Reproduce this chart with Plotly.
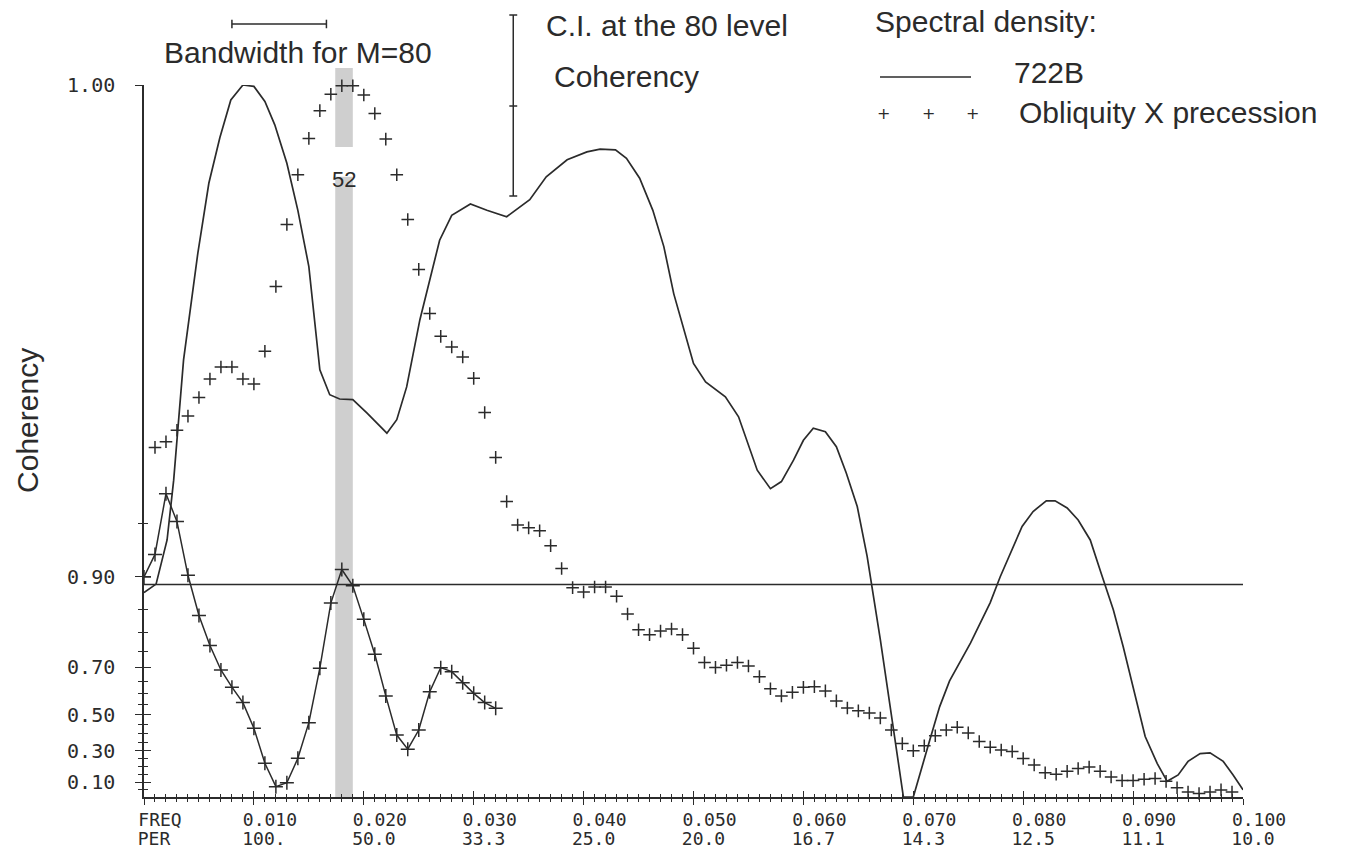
import numpy as np
import plotly.graph_objects as go

# ---------------- data ----------------
# Spectral density of site 722B (normalised, 0..1), smooth curve
freq_722b = [0.0000, 0.0011, 0.0021, 0.0027, 0.0036, 0.0049, 0.0059, 0.0069, 0.0079, 0.0090,
             0.0100, 0.0110, 0.0119, 0.0130, 0.0140, 0.0150, 0.0160, 0.0169, 0.0178, 0.0190,
             0.0203, 0.0221, 0.0230, 0.0239, 0.0251, 0.0262, 0.0269, 0.0280, 0.0297, 0.0312,
             0.0330, 0.0351, 0.0366, 0.0385, 0.0403, 0.0415, 0.0429, 0.0439, 0.0451, 0.0463,
             0.0473, 0.0482, 0.0491, 0.0500, 0.0511, 0.0529, 0.0541, 0.0558, 0.0570, 0.0580,
             0.0591, 0.0600, 0.0609, 0.0620, 0.0630, 0.0639, 0.0649, 0.0658, 0.0670, 0.0679,
             0.0686, 0.0691, 0.0700, 0.0706, 0.0715, 0.0724, 0.0733, 0.0752, 0.0770, 0.0779,
             0.0790, 0.0799, 0.0809, 0.0821, 0.0829, 0.0840, 0.0850, 0.0861, 0.0871, 0.0882,
             0.0891, 0.0902, 0.0911, 0.0922, 0.0931, 0.0941, 0.0950, 0.0961, 0.0970, 0.0982,
             0.0991, 0.1000]
dens_722b = [0.287, 0.299, 0.361, 0.445, 0.614, 0.764, 0.862, 0.926, 0.979, 1.000,
             0.998, 0.977, 0.944, 0.890, 0.824, 0.745, 0.600, 0.565, 0.559, 0.558,
             0.539, 0.511, 0.530, 0.576, 0.670, 0.740, 0.782, 0.817, 0.833, 0.824,
             0.815, 0.839, 0.871, 0.895, 0.906, 0.910, 0.909, 0.897, 0.869, 0.824,
             0.773, 0.707, 0.656, 0.609, 0.583, 0.562, 0.534, 0.459, 0.433, 0.443,
             0.473, 0.501, 0.518, 0.513, 0.492, 0.455, 0.408, 0.338, 0.221, 0.127,
             0.052, 0.000, 0.000, 0.033, 0.080, 0.127, 0.163, 0.216, 0.273, 0.309,
             0.347, 0.380, 0.401, 0.416, 0.416, 0.406, 0.389, 0.361, 0.314, 0.263,
             0.211, 0.141, 0.085, 0.047, 0.022, 0.031, 0.050, 0.061, 0.062, 0.050,
             0.031, 0.010]

# Spectral density of obliquity x precession (normalised), one value per 0.001 frequency step
freq_obl = [round(0.001 * i, 3) for i in range(1, 100)]
dens_obl = [0.491, 0.499, 0.515, 0.535, 0.561, 0.587, 0.604, 0.604, 0.587, 0.580,
            0.626, 0.717, 0.804, 0.874, 0.925, 0.964, 0.987, 0.999, 0.999, 0.986,
            0.960, 0.924, 0.874, 0.811, 0.741, 0.679, 0.647, 0.632, 0.618, 0.588,
            0.540, 0.477, 0.415, 0.382, 0.378, 0.374, 0.353, 0.321, 0.294, 0.288,
            0.295, 0.295, 0.282, 0.257, 0.235, 0.228, 0.233, 0.236, 0.228, 0.209,
            0.189, 0.182, 0.185, 0.189, 0.184, 0.169, 0.152, 0.142, 0.147, 0.154,
            0.155, 0.149, 0.135, 0.125, 0.121, 0.118, 0.111, 0.094, 0.075, 0.065,
            0.072, 0.086, 0.094, 0.098, 0.090, 0.078, 0.070, 0.066, 0.064, 0.054,
            0.045, 0.034, 0.032, 0.036, 0.040, 0.042, 0.036, 0.028, 0.023, 0.023,
            0.025, 0.026, 0.022, 0.013, 0.007, 0.005, 0.007, 0.010, 0.007]

# Coherency between the two series
freq_coh = [round(0.001 * i, 3) for i in range(0, 33)]
coherency = [0.900, 0.925, 0.966, 0.951, 0.902, 0.838, 0.767, 0.691, 0.626, 0.559,
             0.430, 0.222, 0.069, 0.095, 0.253, 0.460, 0.697, 0.861, 0.909, 0.888,
             0.830, 0.742, 0.589, 0.392, 0.309, 0.420, 0.607, 0.699, 0.685, 0.644,
             0.600, 0.559, 0.532]

ci_level = 0.89                  # non-zero coherency level (80 %)
band_freq = [0.0174, 0.0190]     # shaded band around the 52-kyr peak
band_label = "52"
bandwidth_freq = [0.0080, 0.0166]
ci_bar_freq = 0.0336

freq_ticks = [0.0, 0.01, 0.02, 0.03, 0.04, 0.05, 0.06, 0.07, 0.08, 0.09, 0.10]
freq_labels = ["FREQ", "0.010", "0.020", "0.030", "0.040", "0.050",
               "0.060", "0.070", "0.080", "0.090", "0.100"]
per_labels = ["PER", "100.", "50.0", "33.3", "25.0", "20.0",
              "16.7", "14.3", "12.5", "11.1", "10.0"]
coh_major = [0.10, 0.30, 0.50, 0.70, 0.90]
coh_major_text = ["0.10", "0.30", "0.50", "0.70", "0.90"]
coh_minor = [0.05, 0.15, 0.20, 0.25, 0.35, 0.40, 0.45, 0.55, 0.60,
             0.65, 0.75, 0.80, 0.85, 0.95]

# ---------------- styling ----------------
INK = "#2b2b2b"
MONO = "DejaVu Sans Mono, Liberation Mono, monospace"
SANS = "Liberation Sans, Arial, Helvetica, sans-serif"
Z_TOP = 4.7625          # top of the (arctanh-scaled) coherency axis

coh_z = np.arctanh(np.array(coherency))
major_z = list(np.arctanh(np.array(coh_major))) + [Z_TOP]
major_text = coh_major_text + ["1.00"]
minor_z = list(np.arctanh(np.array(coh_minor)))

fig = go.Figure()

fig.add_trace(go.Scatter(
    x=freq_722b, y=dens_722b, xaxis="x", yaxis="y3", mode="lines",
    line=dict(color=INK, width=1.7), showlegend=False, hoverinfo="skip"))

fig.add_trace(go.Scatter(
    x=freq_obl, y=dens_obl, xaxis="x", yaxis="y3", mode="markers",
    marker=dict(symbol="cross-thin", size=9, color=INK, line=dict(width=1.5, color=INK)),
    showlegend=False, hoverinfo="skip", cliponaxis=False))

fig.add_trace(go.Scatter(
    x=freq_coh, y=coh_z, xaxis="x", yaxis="y", mode="lines+markers",
    line=dict(color=INK, width=1.5),
    marker=dict(symbol="cross-thin", size=10, color=INK, line=dict(width=1.5, color=INK)),
    showlegend=False, hoverinfo="skip"))

# dummy trace so the twin (inside-tick) axes are drawn
fig.add_trace(go.Scatter(x=[None], y=[None], xaxis="x2", yaxis="y2",
                         showlegend=False, hoverinfo="skip"))

# non-zero coherency level
fig.add_shape(type="line", xref="paper", yref="y", x0=0, x1=1,
              y0=float(np.arctanh(ci_level)), y1=float(np.arctanh(ci_level)),
              line=dict(color=INK, width=1.5))

# shaded band (split around its label)
for y0, y1 in [(0.0, 0.871), (0.913, 1.024)]:
    fig.add_shape(type="rect", xref="x", yref="paper",
                  x0=band_freq[0], x1=band_freq[1], y0=y0, y1=y1,
                  fillcolor="#cfcfcf", line=dict(width=0), layer="below")
fig.add_annotation(x=sum(band_freq) / 2, xref="x", y=0.8876, yref="paper",
                   text=band_label, showarrow=False,
                   font=dict(family=SANS, size=22, color=INK))

# bandwidth bracket
bw_y = 1.0857
fig.add_shape(type="line", xref="x", yref="paper", x0=bandwidth_freq[0], x1=bandwidth_freq[1],
              y0=bw_y, y1=bw_y, line=dict(color=INK, width=1.5))
for xb in bandwidth_freq:
    fig.add_shape(type="line", xref="x", yref="paper", x0=xb, x1=xb,
                  y0=bw_y - 0.006, y1=bw_y + 0.006, line=dict(color=INK, width=1.5))
fig.add_annotation(x=0.1401, y=1.0463, xref="paper", yref="paper", text="Bandwidth for M=80",
                   showarrow=False, xanchor="center", yanchor="middle",
                   font=dict(family=SANS, size=30, color=INK))

# confidence-interval bar
ci_top, ci_mid, ci_bot = 1.0983, 0.9705, 0.8441
fig.add_shape(type="line", xref="x", yref="paper", x0=ci_bar_freq, x1=ci_bar_freq,
              y0=ci_bot, y1=ci_top, line=dict(color=INK, width=1.5))
for yy in (ci_top, ci_mid, ci_bot):
    fig.add_shape(type="line", xref="x", yref="paper", x0=ci_bar_freq - 0.00036,
                  x1=ci_bar_freq + 0.00036, y0=yy, y1=yy, line=dict(color=INK, width=1.5))
fig.add_annotation(x=0.364, y=1.0829, xref="paper", yref="paper", text="C.I. at the 80 level",
                   showarrow=False, xanchor="left", yanchor="middle",
                   font=dict(family=SANS, size=30, color=INK))
fig.add_annotation(x=0.3712, y=1.0126, xref="paper", yref="paper", text="Coherency",
                   showarrow=False, xanchor="left", yanchor="middle",
                   font=dict(family=SANS, size=30, color=INK))

# legend (hand made, as in the original)
fig.add_annotation(x=0.6633, y=1.0885, xref="paper", yref="paper", text="Spectral density:",
                   showarrow=False, xanchor="left", yanchor="middle",
                   font=dict(family=SANS, size=30, color=INK))
fig.add_shape(type="line", xref="paper", yref="paper", x0=0.6697, x1=0.7525,
              y0=1.0112, y1=1.0112, line=dict(color=INK, width=1.5))
fig.add_annotation(x=0.7898, y=1.0169, xref="paper", yref="paper", text="722B",
                   showarrow=False, xanchor="left", yanchor="middle",
                   font=dict(family=SANS, size=30, color=INK))
for xc in (0.6725, 0.7134, 0.7543):
    fig.add_annotation(x=xc, y=0.9593, xref="paper", yref="paper", text="+",
                       showarrow=False, xanchor="center", yanchor="middle",
                       font=dict(family="DejaVu Sans", size=16, color=INK))
fig.add_annotation(x=0.7944, y=0.9607, xref="paper", yref="paper",
                   text="Obliquity X precession", showarrow=False,
                   xanchor="left", yanchor="middle",
                   font=dict(family=SANS, size=30, color=INK))

# y-axis title
fig.add_annotation(x=-0.1056, y=0.5295, xref="paper", yref="paper", text="Coherency",
                   textangle=-90, showarrow=False, xanchor="center", yanchor="middle",
                   font=dict(family=SANS, size=30, color=INK))

tickfont = dict(family=MONO, size=20, color=INK)
xtickfont = dict(family=MONO, size=18, color=INK)

fig.update_layout(
    width=1349, height=854, autosize=False,
    margin=dict(l=144, r=106, t=85, b=57, autoexpand=False),
    paper_bgcolor="white", plot_bgcolor="white",
    showlegend=False,
    xaxis=dict(range=[0, 0.1], showgrid=False, zeroline=False, automargin=False,
               showline=True, linecolor=INK, linewidth=1.5,
               tickmode="array", tickvals=freq_ticks, ticktext=freq_labels,
               ticks="outside", ticklen=6, tickwidth=1.4, tickcolor=INK,
               tickfont=xtickfont, ticklabelshift=16, ticklabelstandoff=0,
               minor=dict(dtick=0.001, tick0=0, ticks="outside", ticklen=3,
                          tickwidth=1.2, tickcolor=INK, showgrid=False),
               anchor="y"),
    xaxis2=dict(range=[0, 0.1], overlaying="x", side="bottom", anchor="y2",
                showgrid=False, zeroline=False, showline=False, automargin=False,
                tickmode="array", tickvals=freq_ticks, ticktext=per_labels,
                ticks="inside", ticklen=6, tickwidth=1.4, tickcolor=INK,
                tickfont=xtickfont, ticklabelshift=10, ticklabelstandoff=29,
                minor=dict(dtick=0.001, tick0=0, ticks="inside", ticklen=3,
                           tickwidth=1.2, tickcolor=INK, showgrid=False)),
    yaxis=dict(range=[0, Z_TOP], showgrid=False, zeroline=False, automargin=False,
               showline=True, linecolor=INK, linewidth=1.5,
               tickmode="array", tickvals=major_z, ticktext=major_text,
               ticks="outside", ticklen=7, tickwidth=1.4, tickcolor=INK,
               tickfont=tickfont, ticklabelstandoff=16,
               minor=dict(tickmode="array", tickvals=minor_z, ticks="outside",
                          ticklen=4, tickwidth=1.2, tickcolor=INK, showgrid=False),
               anchor="x"),
    yaxis2=dict(range=[0, Z_TOP], overlaying="y", side="left", anchor="x2",
                showgrid=False, zeroline=False, showline=False, automargin=False,
                tickmode="array", tickvals=major_z, showticklabels=False,
                ticks="inside", ticklen=7, tickwidth=1.4, tickcolor=INK,
                minor=dict(tickmode="array", tickvals=minor_z, ticks="inside",
                           ticklen=4, tickwidth=1.2, tickcolor=INK, showgrid=False)),
    yaxis3=dict(range=[0, 1], overlaying="y", anchor="x", visible=False, automargin=False),
)

fig.write_html("out.html")
